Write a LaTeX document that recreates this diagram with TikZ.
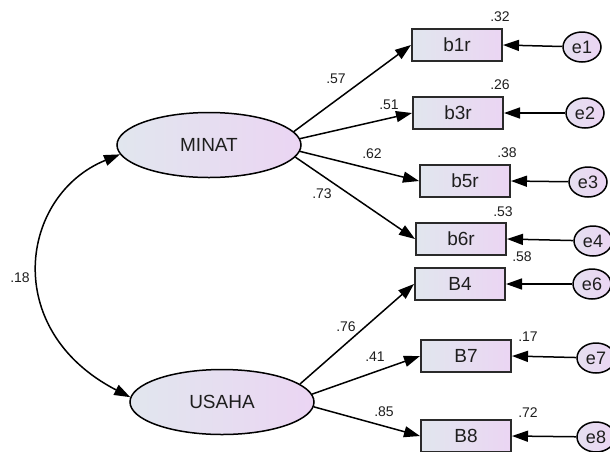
\documentclass[tikz,border=0pt]{standalone}
\usepackage{fontspec}
\setmainfont{Liberation Sans}
\usetikzlibrary{arrows.meta,shapes.geometric}
\definecolor{shL}{HTML}{E1E6EE}
\definecolor{shR}{HTML}{EBD5F3}
\definecolor{inkc}{HTML}{1E1E1E}
\definecolor{boxline}{HTML}{2A2A2A}
\begin{document}
\begin{tikzpicture}[x=1pt,y=-1pt,
  lat/.style={ellipse, draw=black, line width=1.5pt, left color=shL, right color=shR,
    minimum width=184pt, minimum height=65pt, inner sep=0pt, text=inkc,
    font=\fontsize{19}{19}\selectfont},
  obs/.style={rectangle, draw=boxline, line width=2pt, left color=shL, right color=shR,
    minimum width=90pt, minimum height=32pt, inner sep=0pt, text=inkc,
    font=\fontsize{19}{19}\selectfont},
  err/.style={ellipse, draw=black, line width=1.5pt, left color=shL!60!shR, right color=shR,
    minimum width=38pt, minimum height=30pt, inner sep=0pt, text=inkc,
    font=\fontsize{18}{18}\selectfont},
  pth/.style={-{Triangle[length=16pt,width=11pt]}, line width=1.5pt},
  cov/.style={{Triangle[length=16pt,width=11pt]}-{Triangle[length=16pt,width=11pt]}, line width=1.5pt},
  lbl/.style={font=\fontsize{14}{14}\selectfont, text=inkc, inner sep=0pt}
]
\useasboundingbox (0,0) rectangle (610,451);
\clip (0,0) rectangle (610,451);

% latent variables
\node[lat] (minat) at (209,145) {MINAT};
\node[lat] (usaha) at (222,402) {USAHA};

% observed variables
\node[obs] (b1r) at (457,45) {b1r};
\node[obs] (b3r) at (458,113) {b3r};
\node[obs] (b5r) at (465,181) {b5r};
\node[obs] (b6r) at (461,239) {b6r};
\node[obs] (B4) at (460,284) {B4};
\node[obs] (B7) at (466,356) {B7};
\node[obs] (B8) at (466,436) {B8};

% errors
\node[err] (e1) at (582,47) {e1};
\node[err] (e2) at (585,113) {e2};
\node[err] (e3) at (588,182) {e3};
\node[err] (e4) at (593,241) {e4};
\node[err] (e6) at (592,284) {e6};
\node[err] (e7) at (596,358) {e7};
\node[err] (e8) at (596,437) {e8};

% loadings
\draw[pth] (minat.9) -- (b1r.west);
\draw[pth] (minat.4) -- (b3r.west);
\draw[pth] (minat.-4) -- (b5r.west);
\draw[pth] (minat.-8) -- (b6r.west);
\draw[pth] (usaha.13) -- (B4.west);
\draw[pth] (usaha.5) -- (B7.west);
\draw[pth] (usaha.-3) -- (B8.west);

% error arrows
\draw[pth] (e1) -- (b1r.east);
\draw[pth] (e2) -- (b3r.east);
\draw[pth] (e3) -- (b5r.east);
\draw[pth] (e4) -- (b6r.east);
\draw[pth] (e6) -- (B4.east);
\draw[pth] (e7) -- (B7.east);
\draw[pth] (e8) -- (B8.east);

% covariance
\draw[cov] (minat.186) .. controls (20,195) and (0,330) .. (usaha.177);
\node[lbl] (c18) at (20,278) {.18};

% loading labels
\node[lbl] (l57) at (336,79) {.57};
\node[lbl] (l51) at (389,105) {.51};
\node[lbl] (l62) at (372,154) {.62};
\node[lbl] (l73) at (322,194) {.73};
\node[lbl] (l76) at (346,327) {.76};
\node[lbl] (l41) at (375,357) {.41};
\node[lbl] (l85) at (384,412) {.85};

% R-squared labels
\node[lbl] (r1) at (500,17) {.32};
\node[lbl] (r3) at (500,85) {.26};
\node[lbl] (r5) at (507,153) {.38};
\node[lbl] (r6) at (503,212) {.53};
\node[lbl] (r4) at (522,257) {.58};
\node[lbl] (r7) at (528,337) {.17};
\node[lbl] (r8) at (528,413) {.72};
\end{tikzpicture}
\end{document}
